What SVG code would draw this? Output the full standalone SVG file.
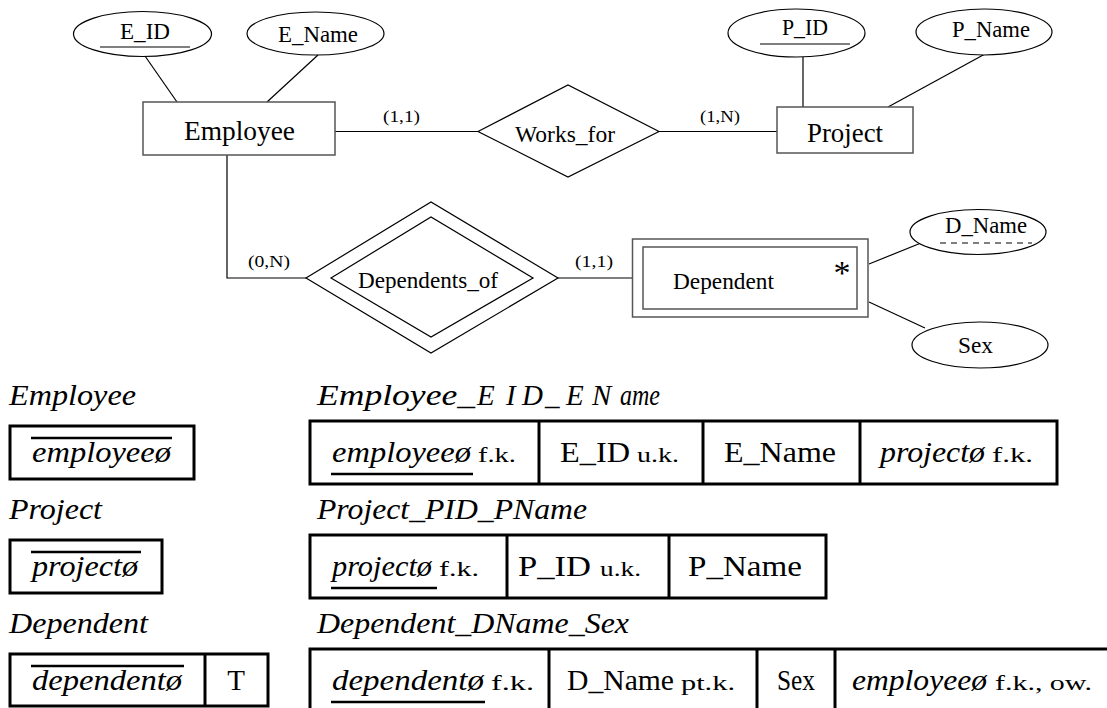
<svg xmlns="http://www.w3.org/2000/svg" width="1107" height="708" viewBox="0 0 1107 708" font-family="'Liberation Serif', 'Times New Roman', serif">
  <style>
    text { font-family: "Liberation Serif", "Times New Roman", serif; fill: #000; }
    .lbl { font-size: 23px; }
    .big { font-size: 27px; }
    .card { font-size: 16.5px; }
    .it { font-style: italic; }
    .cell { font-size: 29px; }
    .note { font-size: 22px; }
    .ent { fill: #fff; stroke: #555; stroke-width: 1.5; }
    .shape { fill: #fff; stroke: #000; stroke-width: 1.2; }
    .edge { fill: none; stroke: #000; stroke-width: 1.2; }
    .thick { fill: none; stroke: #000; stroke-width: 3; }
    .ul { stroke: #000; stroke-width: 2.5; }
  </style>

  <!-- ER diagram connectors -->
  <g id="connectors">
    <line class="edge" x1="145" y1="56" x2="177" y2="102"/>
    <line class="edge" x1="318" y1="55" x2="267" y2="102"/>
    <line class="edge" x1="803" y1="57" x2="803" y2="107"/>
    <line class="edge" x1="985" y1="54" x2="888" y2="107"/>
    <line class="edge" x1="335" y1="131.5" x2="478" y2="131.5"/>
    <line class="edge" x1="659" y1="131.5" x2="777" y2="131.5"/>
    <polyline class="edge" points="227,155 227,278 306,278"/>
    <line class="edge" x1="558" y1="278" x2="632" y2="278"/>
    <line class="edge" x1="869" y1="264" x2="921" y2="243"/>
    <line class="edge" x1="869" y1="302" x2="925" y2="328"/>
    <text class="card" x="383" y="122" textLength="37" lengthAdjust="spacingAndGlyphs">(1,1)</text>
    <text class="card" x="700" y="122" textLength="40" lengthAdjust="spacingAndGlyphs">(1,N)</text>
    <text class="card" x="248" y="267" textLength="42" lengthAdjust="spacingAndGlyphs">(0,N)</text>
    <text class="card" x="575" y="267" textLength="38" lengthAdjust="spacingAndGlyphs">(1,1)</text>
  </g>

  <!-- attributes -->
  <g id="attr-eid">
    <ellipse class="shape" cx="142.5" cy="34" rx="69" ry="22.5"/>
    <text class="lbl" x="120" y="39" textLength="50" lengthAdjust="spacingAndGlyphs">E_ID</text>
    <line class="edge" x1="100" y1="47" x2="190" y2="47"/>
  </g>
  <g id="attr-ename">
    <ellipse class="shape" cx="315.5" cy="33.5" rx="68.5" ry="21.5"/>
    <text class="lbl" x="278" y="42" textLength="80" lengthAdjust="spacingAndGlyphs">E_Name</text>
  </g>
  <g id="attr-pid">
    <ellipse class="shape" cx="796.5" cy="33" rx="68.5" ry="24"/>
    <text class="lbl" x="782" y="35" textLength="46" lengthAdjust="spacingAndGlyphs">P_ID</text>
    <line class="edge" x1="760" y1="44" x2="850" y2="44"/>
  </g>
  <g id="attr-pname">
    <ellipse class="shape" cx="984" cy="32" rx="68" ry="23"/>
    <text class="lbl" x="952" y="37" textLength="78" lengthAdjust="spacingAndGlyphs">P_Name</text>
  </g>
  <g id="attr-dname">
    <ellipse class="shape" cx="978" cy="232" rx="68" ry="22.5"/>
    <text class="lbl" x="945" y="233" textLength="82" lengthAdjust="spacingAndGlyphs">D_Name</text>
    <line class="edge" x1="940" y1="243" x2="1032" y2="243" stroke-dasharray="6 5"/>
  </g>
  <g id="attr-sex">
    <ellipse class="shape" cx="980" cy="345" rx="68" ry="23"/>
    <text class="lbl" x="958" y="353" textLength="35" lengthAdjust="spacingAndGlyphs">Sex</text>
  </g>

  <!-- entities -->
  <g id="ent-employee">
    <rect class="ent" x="143" y="102" width="192" height="53"/>
    <text class="big" x="184" y="140" textLength="111" lengthAdjust="spacingAndGlyphs">Employee</text>
  </g>
  <g id="ent-project">
    <rect class="ent" x="777" y="107" width="136" height="46"/>
    <text class="big" x="807" y="142" textLength="76" lengthAdjust="spacingAndGlyphs">Project</text>
  </g>
  <g id="ent-dependent">
    <rect class="ent" x="632.5" y="239" width="235.5" height="78" stroke="#000"/>
    <rect class="ent" x="643" y="247" width="214" height="62"/>
    <text class="lbl" x="673" y="289" textLength="101" lengthAdjust="spacingAndGlyphs">Dependent</text>
    <text x="842" y="284" font-size="34" text-anchor="middle">*</text>
  </g>

  <!-- relationships -->
  <g id="rel-works-for">
    <polygon class="shape" points="478,131.5 568,85 659,131.5 568,177"/>
    <text class="lbl" x="515" y="142" textLength="100" lengthAdjust="spacingAndGlyphs">Works_for</text>
  </g>
  <g id="rel-dependents-of">
    <polygon class="shape" points="306,278 431,202 558,278 431,353"/>
    <polygon class="shape" points="331,278 431,217 533,278 431,337"/>
    <text class="lbl" x="358" y="288" textLength="140" lengthAdjust="spacingAndGlyphs">Dependents_of</text>
  </g>

  <!-- relational schema: Employee -->
  <g id="tbl-employee">
    <text class="cell it" x="9" y="405" textLength="127" lengthAdjust="spacingAndGlyphs">Employee</text>
    <rect class="thick" x="10" y="426" width="184" height="53"/>
    <line class="ul" x1="31" y1="438" x2="172" y2="438"/>
    <text class="cell it" x="32" y="462" textLength="139" lengthAdjust="spacingAndGlyphs">employeeø</text>
  </g>
  <g id="tbl-employee-eid-ename">
    <text class="cell it" y="405"><tspan x="317" textLength="158" lengthAdjust="spacingAndGlyphs">Employee_</tspan><tspan x="477">E</tspan><tspan x="506">I</tspan><tspan x="522">D</tspan><tspan x="545">_</tspan><tspan x="566">E</tspan><tspan x="592">N</tspan><tspan x="620" textLength="40" lengthAdjust="spacingAndGlyphs">ame</tspan></text>
    <rect class="thick" x="310" y="421" width="747" height="63"/>
    <line class="thick" x1="539" y1="421" x2="539" y2="484"/>
    <line class="thick" x1="703" y1="421" x2="703" y2="484"/>
    <line class="thick" x1="860" y1="421" x2="860" y2="484"/>
    <text class="cell it" x="332" y="462" textLength="139" lengthAdjust="spacingAndGlyphs">employeeø</text>
    <text class="note" x="478" y="462" textLength="38" lengthAdjust="spacingAndGlyphs">f.k.</text>
    <line class="ul" x1="331" y1="474" x2="473" y2="474"/>
    <text class="cell" x="560" y="462" textLength="70" lengthAdjust="spacingAndGlyphs">E_ID</text>
    <text class="note" x="637" y="462" textLength="42" lengthAdjust="spacingAndGlyphs">u.k.</text>
    <text class="cell" x="724" y="462" textLength="112" lengthAdjust="spacingAndGlyphs">E_Name</text>
    <text class="cell it" x="880" y="462" textLength="105" lengthAdjust="spacingAndGlyphs">projectø</text>
    <text class="note" x="992" y="462" textLength="41" lengthAdjust="spacingAndGlyphs">f.k.</text>
  </g>

  <!-- relational schema: Project -->
  <g id="tbl-project">
    <text class="cell it" x="9" y="519" textLength="93" lengthAdjust="spacingAndGlyphs">Project</text>
    <rect class="thick" x="10" y="540" width="152" height="53"/>
    <line class="ul" x1="31" y1="552" x2="141" y2="552"/>
    <text class="cell it" x="32" y="576" textLength="106" lengthAdjust="spacingAndGlyphs">projectø</text>
  </g>
  <g id="tbl-project-pid-pname">
    <text class="cell it" x="317" y="519" textLength="270" lengthAdjust="spacingAndGlyphs">Project_PID_PName</text>
    <rect class="thick" x="310" y="535" width="516" height="63"/>
    <line class="thick" x1="507" y1="535" x2="507" y2="598"/>
    <line class="thick" x1="669" y1="535" x2="669" y2="598"/>
    <text class="cell it" x="332" y="576" textLength="100" lengthAdjust="spacingAndGlyphs">projectø</text>
    <text class="note" x="439" y="576" textLength="40" lengthAdjust="spacingAndGlyphs">f.k.</text>
    <line class="ul" x1="331" y1="588" x2="437" y2="588"/>
    <text class="cell" x="518" y="576" textLength="73" lengthAdjust="spacingAndGlyphs">P_ID</text>
    <text class="note" x="600" y="576" textLength="41" lengthAdjust="spacingAndGlyphs">u.k.</text>
    <text class="cell" x="688" y="576" textLength="114" lengthAdjust="spacingAndGlyphs">P_Name</text>
  </g>

  <!-- relational schema: Dependent -->
  <g id="tbl-dependent">
    <text class="cell it" x="9" y="633" textLength="139" lengthAdjust="spacingAndGlyphs">Dependent</text>
    <rect class="thick" x="10" y="654" width="258" height="52"/>
    <line class="thick" x1="205" y1="654" x2="205" y2="706"/>
    <line class="ul" x1="31" y1="666" x2="184" y2="666"/>
    <text class="cell it" x="32" y="690" textLength="150" lengthAdjust="spacingAndGlyphs">dependentø</text>
    <text class="cell" x="236" y="690" text-anchor="middle">T</text>
  </g>
  <g id="tbl-dependent-dname-sex">
    <text class="cell it" x="317" y="633" textLength="312" lengthAdjust="spacingAndGlyphs">Dependent_DName_Sex</text>
    <rect class="thick" x="310" y="649" width="820" height="70"/>
    <line class="thick" x1="549" y1="649" x2="549" y2="719"/>
    <line class="thick" x1="757" y1="649" x2="757" y2="719"/>
    <line class="thick" x1="835" y1="649" x2="835" y2="719"/>
    <text class="cell it" x="332" y="690" textLength="152" lengthAdjust="spacingAndGlyphs">dependentø</text>
    <text class="note" x="491" y="690" textLength="43" lengthAdjust="spacingAndGlyphs">f.k.</text>
    <line class="ul" x1="331" y1="702" x2="485" y2="702"/>
    <text class="cell" x="567" y="690" textLength="107" lengthAdjust="spacingAndGlyphs">D_Name</text>
    <text class="note" x="681" y="690" textLength="54" lengthAdjust="spacingAndGlyphs">pt.k.</text>
    <text class="cell" x="777" y="690" textLength="38" lengthAdjust="spacingAndGlyphs">Sex</text>
    <text class="cell it" x="852" y="690" textLength="135" lengthAdjust="spacingAndGlyphs">employeeø</text>
    <text class="note" x="995" y="690" textLength="97" lengthAdjust="spacingAndGlyphs">f.k., ow.</text>
  </g>
</svg>
